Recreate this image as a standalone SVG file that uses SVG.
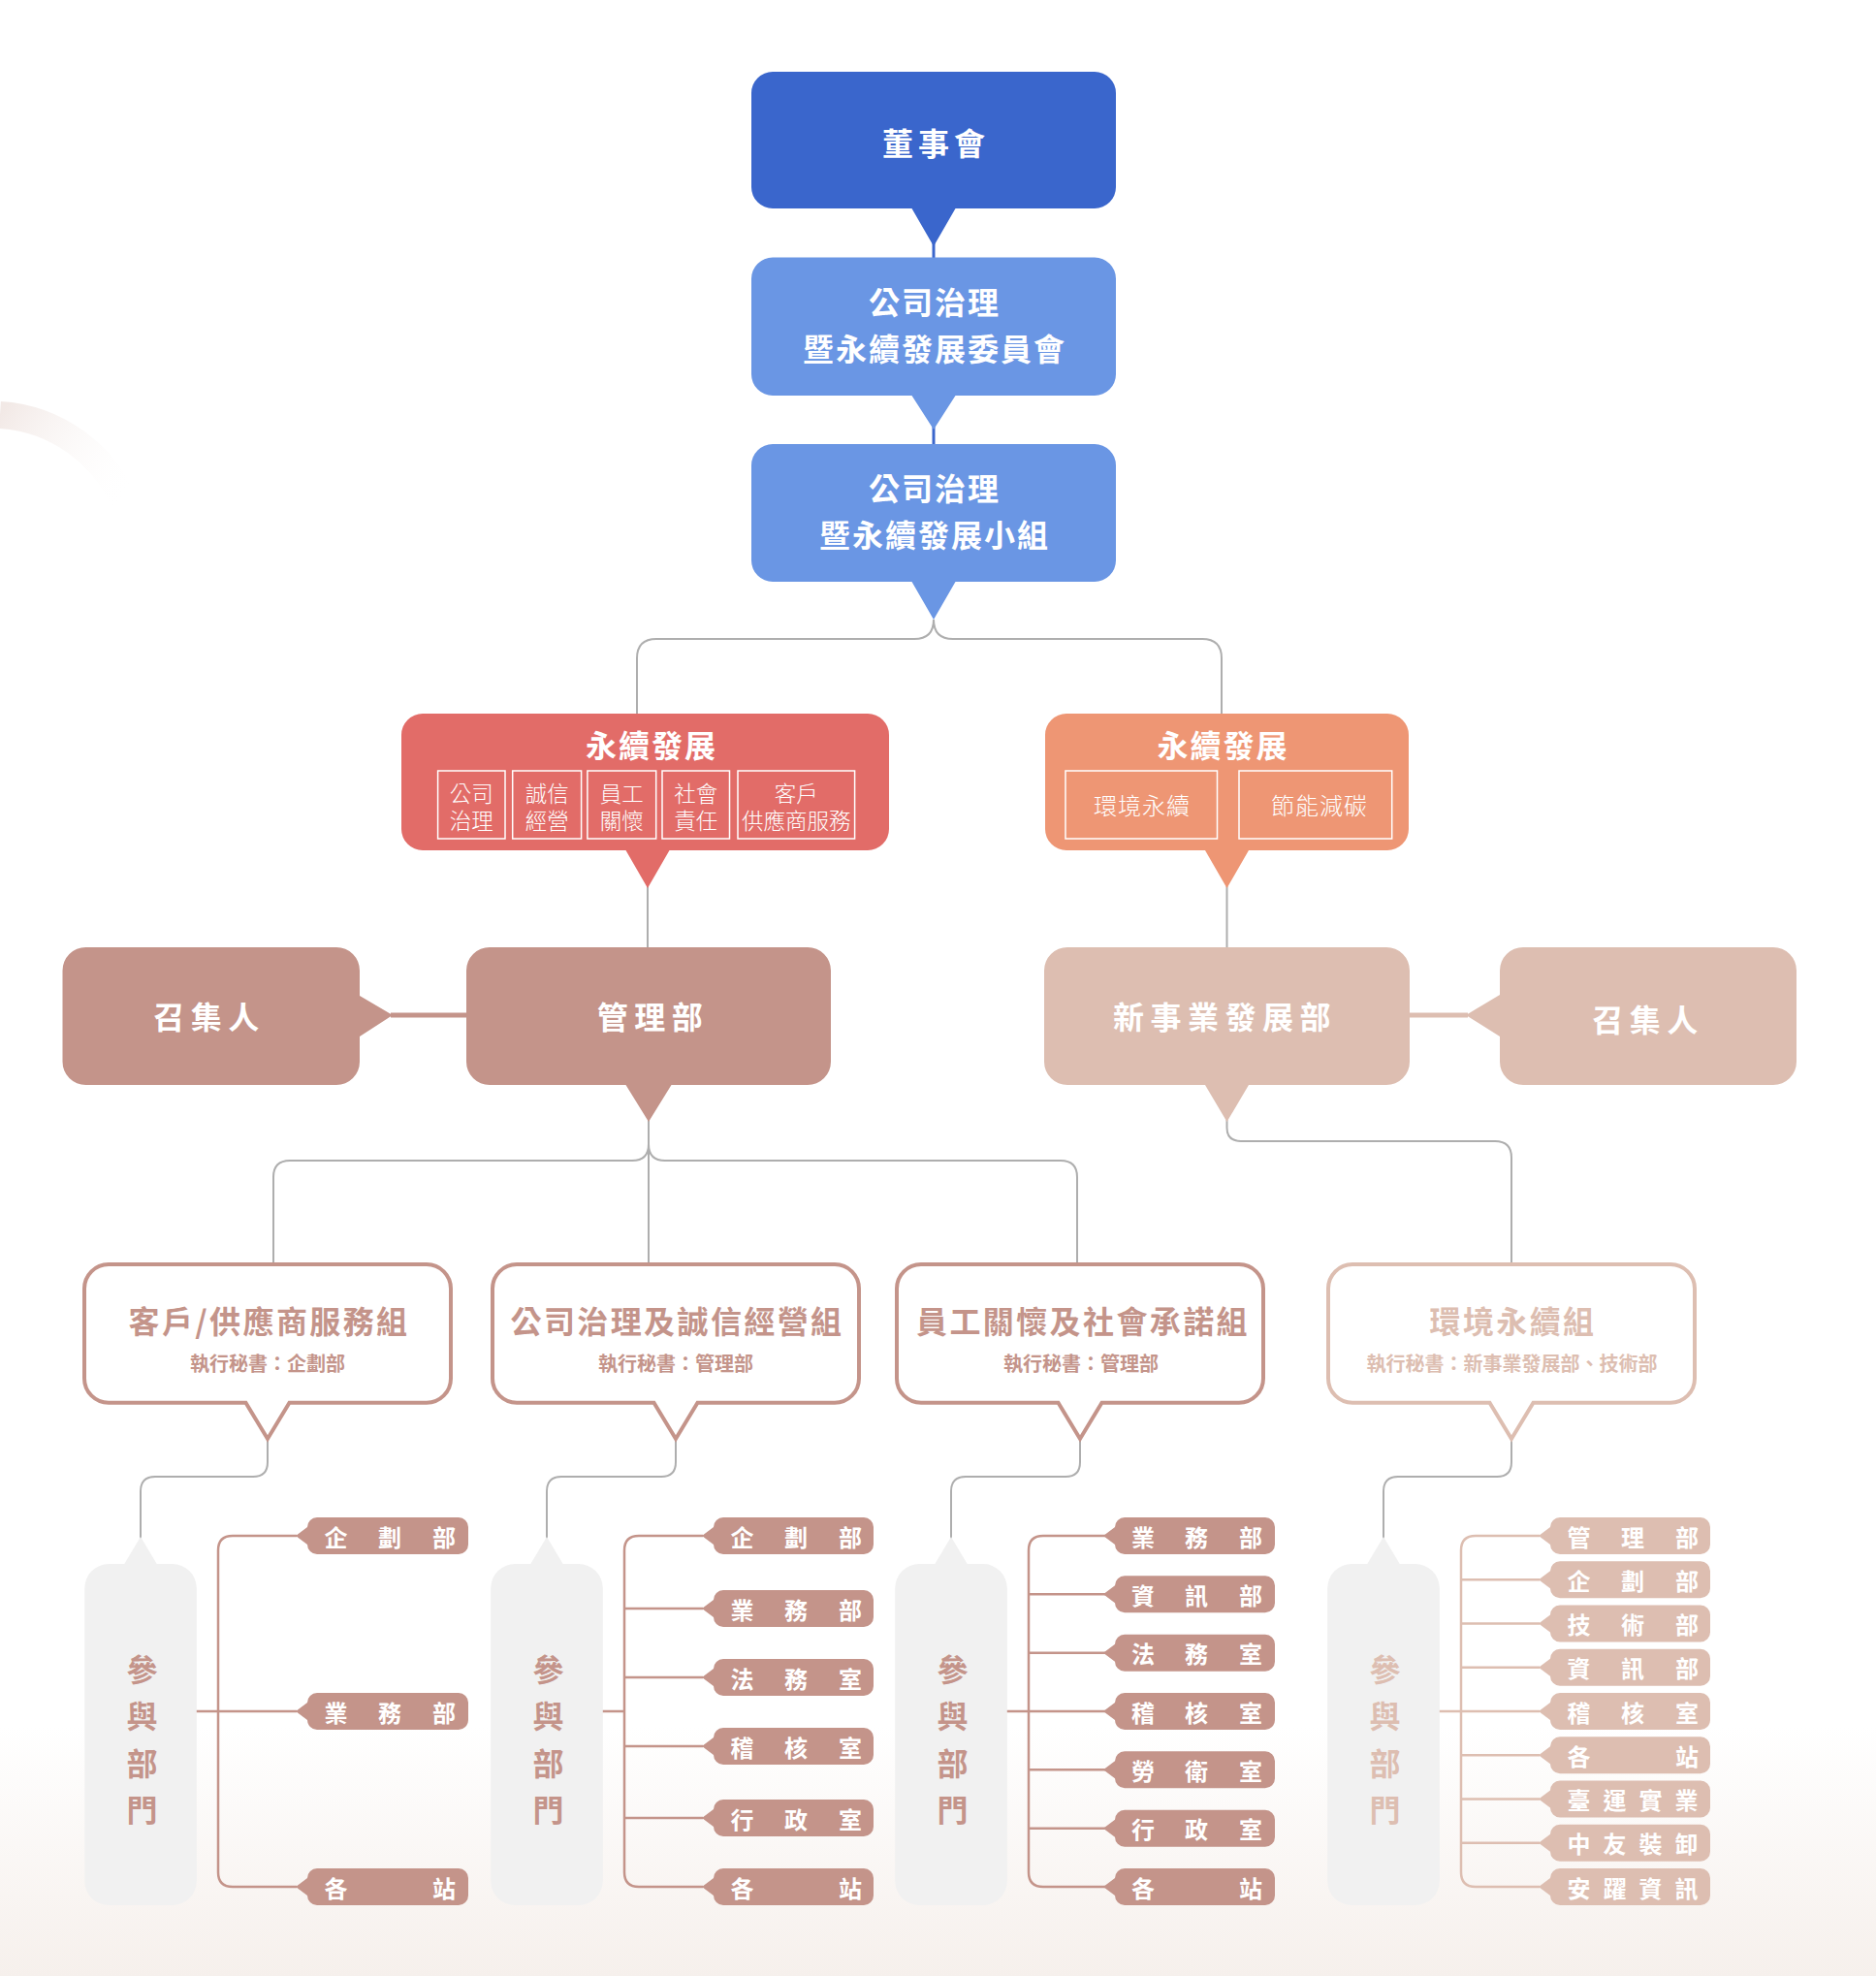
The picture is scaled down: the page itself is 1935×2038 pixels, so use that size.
<svg xmlns="http://www.w3.org/2000/svg" width="1935" height="2038" viewBox="0 0 1935 2038">
<defs>
<style>
text{font-family:"Noto Sans CJK TC","Noto Sans CJK SC",sans-serif;dominant-baseline:central;text-anchor:middle}
.w{fill:#fff}
.b{font-weight:700}
.l{font-weight:300}
.conn{fill:none;stroke:#AEAEAE;stroke-width:2}
.dk{fill:#C4948A}
.lt{fill:#DDBEB1}
.gbox{fill:#fff;stroke-width:4}
.gd{stroke:#C4948A}
.gl{stroke:#DDBEB1}
.br{fill:none;stroke-width:2.5}
.bd{stroke:#C4948A}
.bl{stroke:#DDBEB1}
.sub{fill:none;stroke:#fff;stroke-width:1.5}
.pt{font-size:24px;font-weight:700;fill:#fff}
.gt{font-size:32px;font-weight:700;letter-spacing:2.4px}
.gs{font-size:20px;font-weight:700}
.vt{font-size:32px;font-weight:700}
</style>
<linearGradient id="bg" x1="0" y1="0" x2="0" y2="1">
<stop offset="0" stop-color="#FFFFFF"/>
<stop offset="1" stop-color="#F6F0EC"/>
</linearGradient>
<linearGradient id="arc" gradientUnits="userSpaceOnUse" x1="0" y1="428" x2="128" y2="518">
<stop offset="0" stop-color="#F2E9E6"/>
<stop offset="1" stop-color="#FFFFFF" stop-opacity="0"/>
</linearGradient>
</defs>
<rect width="1935" height="2038" fill="#fff"/>
<rect x="0" y="1780" width="1935" height="258" fill="url(#bg)"/>
<path d="M0,428 A150,150 0 0 1 130,522" fill="none" stroke="url(#arc)" stroke-width="28"/>

<g id="connectors">
<path d="M963,250 V268" stroke="#3A66CC" stroke-width="3" fill="none"/>
<path d="M963,440 V460" stroke="#3A66CC" stroke-width="3" fill="none"/>
<path class="conn" d="M963,639 Q963,659 943,659 H677 Q657,659 657,679 V738"/>
<path class="conn" d="M963,639 Q963,659 983,659 H1240 Q1260,659 1260,679 V738"/>
<path class="conn" d="M668,914 V979"/>
<path class="conn" d="M1265.5,914 V979"/>
<path d="M403,1047 H483" stroke="#C4948A" stroke-width="5" fill="none"/>
<path d="M1452,1047 H1514" stroke="#DDBEB1" stroke-width="5" fill="none"/>
<path class="conn" d="M669,1155 V1180 Q669,1197 652,1197 H299 Q282,1197 282,1214 V1306"/>
<path class="conn" d="M669,1155 V1180 Q669,1197 686,1197 H1094 Q1111,1197 1111,1214 V1306"/>
<path class="conn" d="M669,1155 V1306"/>
<path class="conn" d="M1265.5,1155 V1163 Q1265.5,1177 1280,1177 H1542 Q1559,1177 1559,1194 V1306"/>
<path class="conn" d="M276,1482 V1508 Q276,1523 261,1523 H160 Q145,1523 145,1538 V1588"/>
<path class="conn" d="M697,1482 V1508 Q697,1523 682,1523 H579 Q564,1523 564,1538 V1588"/>
<path class="conn" d="M1114,1482 V1508 Q1114,1523 1099,1523 H996 Q981,1523 981,1538 V1588"/>
<path class="conn" d="M1559,1482 V1508 Q1559,1523 1544,1523 H1442 Q1427,1523 1427,1538 V1588"/>
<path class="br bd" d="M306,1584 H240 Q225,1584 225,1599 V1931 Q225,1946 240,1946 H306 M202,1765 H306"/>
<path class="br bd" d="M725,1584 H659 Q644,1584 644,1599 V1931 Q644,1946 659,1946 H725 M644,1659 H725 M644,1730 H725 M644,1801 H725 M644,1875 H725 M621,1765 H644"/>
<path class="br bd" d="M1140,1584 H1076 Q1061,1584 1061,1599 V1931 Q1061,1946 1076,1946 H1140 M1061,1644.3 H1140 M1061,1704.7 H1140 M1038,1765 H1140 M1061,1825.3 H1140 M1061,1885.7 H1140"/>
<path class="br bl" d="M1588,1584 H1522 Q1507,1584 1507,1599 V1931 Q1507,1946 1522,1946 H1588 M1507,1629.25 H1588 M1507,1674.5 H1588 M1507,1719.75 H1588 M1484,1765 H1588 M1507,1810.25 H1588 M1507,1855.5 H1588 M1507,1900.75 H1588"/>
</g>

<g id="board">
<path fill="#3A66CC" d="M797,74 H1129 A22,22 0 0 1 1151,96 V193 A22,22 0 0 1 1129,215 H985.5 L963,254 L940.5,215 H797 A22,22 0 0 1 775,193 V96 A22,22 0 0 1 797,74 Z"/>
<text class="w b" x="965.5" y="146" font-size="32" letter-spacing="5">董事會</text>
</g>
<g id="committee">
<path fill="#6A96E4" d="M797,265.5 H1129 A22,22 0 0 1 1151,287.5 V386 A22,22 0 0 1 1129,408 H985.5 L963,443 L940.5,408 H797 A22,22 0 0 1 775,386 V287.5 A22,22 0 0 1 797,265.5 Z"/>
<text class="w b" x="964" y="309.5" font-size="32" letter-spacing="2">公司治理</text>
<text class="w b" x="964" y="358" font-size="32" letter-spacing="2">暨永續發展委員會</text>
</g>
<g id="taskforce">
<path fill="#6A96E4" d="M797,458 H1129 A22,22 0 0 1 1151,480 V578 A22,22 0 0 1 1129,600 H985.5 L963,639 L940.5,600 H797 A22,22 0 0 1 775,578 V480 A22,22 0 0 1 797,458 Z"/>
<text class="w b" x="964" y="502" font-size="32" letter-spacing="2">公司治理</text>
<text class="w b" x="964" y="550" font-size="32" letter-spacing="2">暨永續發展小組</text>
</g>

<g id="esg-left">
<path fill="#E26C68" d="M436,736 H895 A22,22 0 0 1 917,758 V855 A22,22 0 0 1 895,877 H690.5 L668,916 L645.5,877 H436 A22,22 0 0 1 414,855 V758 A22,22 0 0 1 436,736 Z"/>
<text class="w b" x="672" y="767" font-size="32" letter-spacing="2">永續發展</text>
<rect class="sub" x="451.6" y="795" width="69.4" height="70"/>
<rect class="sub" x="528.7" y="795" width="70.9" height="70"/>
<rect class="sub" x="605.9" y="795" width="70.8" height="70"/>
<rect class="sub" x="683" y="795" width="69.5" height="70"/>
<rect class="sub" x="761" y="795" width="120.6" height="70"/>
<g class="w l" font-size="22.5">
<text x="486.3" y="817">公司</text><text x="486.3" y="845">治理</text>
<text x="564.2" y="817">誠信</text><text x="564.2" y="845">經營</text>
<text x="641.3" y="817">員工</text><text x="641.3" y="845">關懷</text>
<text x="717.8" y="817">社會</text><text x="717.8" y="845">責任</text>
<text x="821.3" y="817">客戶</text><text x="821.3" y="845">供應商服務</text>
</g>
</g>
<g id="esg-right">
<path fill="#EE9674" d="M1100,736 H1431 A22,22 0 0 1 1453,758 V855 A22,22 0 0 1 1431,877 H1288 L1265.5,916 L1243,877 H1100 A22,22 0 0 1 1078,855 V758 A22,22 0 0 1 1100,736 Z"/>
<text class="w b" x="1261.5" y="767" font-size="32" letter-spacing="2">永續發展</text>
<rect class="sub" x="1099" y="795" width="156.5" height="70"/>
<rect class="sub" x="1278" y="795" width="157.7" height="70"/>
<text class="w l" x="1178" y="829" font-size="24" letter-spacing="1">環境永續</text>
<text class="w l" x="1361" y="829" font-size="24" letter-spacing="1">節能減碳</text>
</g>

<g id="convener-left">
<path class="dk" d="M88.5,977 H347 A24,24 0 0 1 371,1001 V1027 L405,1047 L371,1069 V1095 A24,24 0 0 1 347,1119 H88.5 A24,24 0 0 1 64.5,1095 V1001 A24,24 0 0 1 88.5,977 Z"/>
<text class="w b" x="216" y="1046.5" font-size="32" letter-spacing="6.5">召集人</text>
</g>
<g id="admin-dept">
<path class="dk" d="M505,977 H833 A24,24 0 0 1 857,1001 V1095 A24,24 0 0 1 833,1119 H692.5 L669,1157 L645.5,1119 H505 A24,24 0 0 1 481,1095 V1001 A24,24 0 0 1 505,977 Z"/>
<text class="w b" x="673.5" y="1046.5" font-size="32" letter-spacing="6.5">管理部</text>
</g>
<g id="newbiz-dept">
<path class="lt" d="M1101,977 H1430 A24,24 0 0 1 1454,1001 V1095 A24,24 0 0 1 1430,1119 H1288 L1265.5,1157 L1243,1119 H1101 A24,24 0 0 1 1077,1095 V1001 A24,24 0 0 1 1101,977 Z"/>
<text class="w b" x="1263.5" y="1046.5" font-size="32" letter-spacing="6.5">新事業發展部</text>
</g>
<g id="convener-right">
<path class="lt" d="M1571,977 H1829 A24,24 0 0 1 1853,1001 V1095 A24,24 0 0 1 1829,1119 H1571 A24,24 0 0 1 1547,1095 V1069 L1512,1047 L1547,1026 V1001 A24,24 0 0 1 1571,977 Z"/>
<text class="w b" x="1700" y="1050" font-size="32" letter-spacing="6.5">召集人</text>
</g>

<g id="group-customer">
<path class="gbox gd" d="M112,1304 H440 A25,25 0 0 1 465,1329 V1421.7 A25,25 0 0 1 440,1446.7 H298.5 L276,1484 L253.5,1446.7 H112 A25,25 0 0 1 87,1421.7 V1329 A25,25 0 0 1 112,1304 Z"/>
<text class="gt dk" x="277.5" y="1360.5">客戶/供應商服務組</text>
<text class="gs dk" x="276" y="1405.5">執行秘書：企劃部</text>
</g>
<g id="group-governance">
<path class="gbox gd" d="M533,1304 H861 A25,25 0 0 1 886,1329 V1421.7 A25,25 0 0 1 861,1446.7 H719.5 L697,1484 L674.5,1446.7 H533 A25,25 0 0 1 508,1421.7 V1329 A25,25 0 0 1 533,1304 Z"/>
<text class="gt dk" x="698.5" y="1360.5">公司治理及誠信經營組</text>
<text class="gs dk" x="697" y="1405.5">執行秘書：管理部</text>
</g>
<g id="group-social">
<path class="gbox gd" d="M950,1304 H1278 A25,25 0 0 1 1303,1329 V1421.7 A25,25 0 0 1 1278,1446.7 H1136.5 L1114,1484 L1091.5,1446.7 H950 A25,25 0 0 1 925,1421.7 V1329 A25,25 0 0 1 950,1304 Z"/>
<text class="gt dk" x="1117" y="1360.5">員工關懷及社會承諾組</text>
<text class="gs dk" x="1115" y="1405.5">執行秘書：管理部</text>
</g>
<g id="group-environment">
<path class="gbox gl" d="M1395,1304 H1723 A25,25 0 0 1 1748,1329 V1421.7 A25,25 0 0 1 1723,1446.7 H1581.5 L1559,1484 L1536.5,1446.7 H1395 A25,25 0 0 1 1370,1421.7 V1329 A25,25 0 0 1 1395,1304 Z"/>
<text class="gt lt" x="1560.5" y="1360.5">環境永續組</text>
<text class="gs lt" x="1559.5" y="1405.5">執行秘書：新事業發展部、技術部</text>
</g>

<g id="members-a">
<path fill="#F1F1F1" d="M145,1585 L161.7,1613 H177.8 A25,25 0 0 1 202.8,1638 V1940 A25,25 0 0 1 177.8,1965 H112.3 A25,25 0 0 1 87.3,1940 V1638 A25,25 0 0 1 112.3,1613 H128.3 Z"/>
<text class="vt dk" x="146.5 146.5 146.5 146.5" y="1720 1768.3 1816.7 1865">參與部門</text>
</g>
<g id="members-b">
<path fill="#F1F1F1" d="M564,1585 L580.7,1613 H596.8 A25,25 0 0 1 621.8,1638 V1940 A25,25 0 0 1 596.8,1965 H531.2 A25,25 0 0 1 506.2,1940 V1638 A25,25 0 0 1 531.2,1613 H547.3 Z"/>
<text class="vt dk" x="565.5 565.5 565.5 565.5" y="1720 1768.3 1816.7 1865">參與部門</text>
</g>
<g id="members-c">
<path fill="#F1F1F1" d="M981,1585 L997.7,1613 H1013.8 A25,25 0 0 1 1038.8,1638 V1940 A25,25 0 0 1 1013.8,1965 H948.2 A25,25 0 0 1 923.2,1940 V1638 A25,25 0 0 1 948.2,1613 H964.3 Z"/>
<text class="vt dk" x="982.5 982.5 982.5 982.5" y="1720 1768.3 1816.7 1865">參與部門</text>
</g>
<g id="members-d">
<path fill="#F1F1F1" d="M1427,1585 L1443.7,1613 H1459.8 A25,25 0 0 1 1484.8,1638 V1940 A25,25 0 0 1 1459.8,1965 H1394.2 A25,25 0 0 1 1369.2,1940 V1638 A25,25 0 0 1 1394.2,1613 H1410.3 Z"/>
<text class="vt lt" x="1428.5 1428.5 1428.5 1428.5" y="1720 1768.3 1816.7 1865">參與部門</text>
</g>

<g id="pill-a1"><path class="dk" d="M327,1565 H473 A10,10 0 0 1 483,1575 V1593 A10,10 0 0 1 473,1603 H327 A10,10 0 0 1 317,1593 L305,1584 L317,1575 A10,10 0 0 1 327,1565 Z"/><text class="pt" x="346.5 402 458" y="1584">企劃部</text></g>
<g id="pill-a2"><path class="dk" d="M327,1746 H473 A10,10 0 0 1 483,1756 V1774 A10,10 0 0 1 473,1784 H327 A10,10 0 0 1 317,1774 L305,1765 L317,1756 A10,10 0 0 1 327,1746 Z"/><text class="pt" x="346.5 402 458" y="1765">業務部</text></g>
<g id="pill-a3"><path class="dk" d="M327,1927 H473 A10,10 0 0 1 483,1937 V1955 A10,10 0 0 1 473,1965 H327 A10,10 0 0 1 317,1955 L305,1946 L317,1937 A10,10 0 0 1 327,1927 Z"/><text class="pt" x="346.5 458" y="1946">各站</text></g>

<g id="pill-b1"><path class="dk" d="M746,1565 H891 A10,10 0 0 1 901,1575 V1593 A10,10 0 0 1 891,1603 H746 A10,10 0 0 1 736,1593 L724,1584 L736,1575 A10,10 0 0 1 746,1565 Z"/><text class="pt" x="765.5 821 877" y="1584">企劃部</text></g>
<g id="pill-b2"><path class="dk" d="M746,1640 H891 A10,10 0 0 1 901,1650 V1668 A10,10 0 0 1 891,1678 H746 A10,10 0 0 1 736,1668 L724,1659 L736,1650 A10,10 0 0 1 746,1640 Z"/><text class="pt" x="765.5 821 877" y="1659">業務部</text></g>
<g id="pill-b3"><path class="dk" d="M746,1711 H891 A10,10 0 0 1 901,1721 V1739 A10,10 0 0 1 891,1749 H746 A10,10 0 0 1 736,1739 L724,1730 L736,1721 A10,10 0 0 1 746,1711 Z"/><text class="pt" x="765.5 821 877" y="1730">法務室</text></g>
<g id="pill-b4"><path class="dk" d="M746,1782 H891 A10,10 0 0 1 901,1792 V1810 A10,10 0 0 1 891,1820 H746 A10,10 0 0 1 736,1810 L724,1801 L736,1792 A10,10 0 0 1 746,1782 Z"/><text class="pt" x="765.5 821 877" y="1801">稽核室</text></g>
<g id="pill-b5"><path class="dk" d="M746,1856 H891 A10,10 0 0 1 901,1866 V1884 A10,10 0 0 1 891,1894 H746 A10,10 0 0 1 736,1884 L724,1875 L736,1866 A10,10 0 0 1 746,1856 Z"/><text class="pt" x="765.5 821 877" y="1875">行政室</text></g>
<g id="pill-b6"><path class="dk" d="M746,1927 H891 A10,10 0 0 1 901,1937 V1955 A10,10 0 0 1 891,1965 H746 A10,10 0 0 1 736,1955 L724,1946 L736,1937 A10,10 0 0 1 746,1927 Z"/><text class="pt" x="765.5 877" y="1946">各站</text></g>

<g id="pill-c1"><path class="dk" d="M1160,1565 H1305 A10,10 0 0 1 1315,1575 V1593 A10,10 0 0 1 1305,1603 H1160 A10,10 0 0 1 1150,1593 L1138,1584 L1150,1575 A10,10 0 0 1 1160,1565 Z"/><text class="pt" x="1179 1234 1290" y="1584">業務部</text></g>
<g id="pill-c2"><path class="dk" d="M1160,1625.3 H1305 A10,10 0 0 1 1315,1635.3 V1653.3 A10,10 0 0 1 1305,1663.3 H1160 A10,10 0 0 1 1150,1653.3 L1138,1644.3 L1150,1635.3 A10,10 0 0 1 1160,1625.3 Z"/><text class="pt" x="1179 1234 1290" y="1644.3">資訊部</text></g>
<g id="pill-c3"><path class="dk" d="M1160,1685.7 H1305 A10,10 0 0 1 1315,1695.7 V1713.7 A10,10 0 0 1 1305,1723.7 H1160 A10,10 0 0 1 1150,1713.7 L1138,1704.7 L1150,1695.7 A10,10 0 0 1 1160,1685.7 Z"/><text class="pt" x="1179 1234 1290" y="1704.7">法務室</text></g>
<g id="pill-c4"><path class="dk" d="M1160,1746 H1305 A10,10 0 0 1 1315,1756 V1774 A10,10 0 0 1 1305,1784 H1160 A10,10 0 0 1 1150,1774 L1138,1765 L1150,1756 A10,10 0 0 1 1160,1746 Z"/><text class="pt" x="1179 1234 1290" y="1765">稽核室</text></g>
<g id="pill-c5"><path class="dk" d="M1160,1806.3 H1305 A10,10 0 0 1 1315,1816.3 V1834.3 A10,10 0 0 1 1305,1844.3 H1160 A10,10 0 0 1 1150,1834.3 L1138,1825.3 L1150,1816.3 A10,10 0 0 1 1160,1806.3 Z"/><text class="pt" x="1179 1234 1290" y="1825.3">勞衛室</text></g>
<g id="pill-c6"><path class="dk" d="M1160,1866.7 H1305 A10,10 0 0 1 1315,1876.7 V1894.7 A10,10 0 0 1 1305,1904.7 H1160 A10,10 0 0 1 1150,1894.7 L1138,1885.7 L1150,1876.7 A10,10 0 0 1 1160,1866.7 Z"/><text class="pt" x="1179 1234 1290" y="1885.7">行政室</text></g>
<g id="pill-c7"><path class="dk" d="M1160,1927 H1305 A10,10 0 0 1 1315,1937 V1955 A10,10 0 0 1 1305,1965 H1160 A10,10 0 0 1 1150,1955 L1138,1946 L1150,1937 A10,10 0 0 1 1160,1927 Z"/><text class="pt" x="1179 1290" y="1946">各站</text></g>

<g id="pill-d1"><path class="lt" d="M1609,1565 H1754 A10,10 0 0 1 1764,1575 V1593 A10,10 0 0 1 1754,1603 H1609 A10,10 0 0 1 1599,1593 L1587,1584 L1599,1575 A10,10 0 0 1 1609,1565 Z"/><text class="pt" x="1628.5 1684 1740" y="1584">管理部</text></g>
<g id="pill-d2"><path class="lt" d="M1609,1610.25 H1754 A10,10 0 0 1 1764,1620.25 V1638.25 A10,10 0 0 1 1754,1648.25 H1609 A10,10 0 0 1 1599,1638.25 L1587,1629.25 L1599,1620.25 A10,10 0 0 1 1609,1610.25 Z"/><text class="pt" x="1628.5 1684 1740" y="1629.25">企劃部</text></g>
<g id="pill-d3"><path class="lt" d="M1609,1655.5 H1754 A10,10 0 0 1 1764,1665.5 V1683.5 A10,10 0 0 1 1754,1693.5 H1609 A10,10 0 0 1 1599,1683.5 L1587,1674.5 L1599,1665.5 A10,10 0 0 1 1609,1655.5 Z"/><text class="pt" x="1628.5 1684 1740" y="1674.5">技術部</text></g>
<g id="pill-d4"><path class="lt" d="M1609,1700.75 H1754 A10,10 0 0 1 1764,1710.75 V1728.75 A10,10 0 0 1 1754,1738.75 H1609 A10,10 0 0 1 1599,1728.75 L1587,1719.75 L1599,1710.75 A10,10 0 0 1 1609,1700.75 Z"/><text class="pt" x="1628.5 1684 1740" y="1719.75">資訊部</text></g>
<g id="pill-d5"><path class="lt" d="M1609,1746 H1754 A10,10 0 0 1 1764,1756 V1774 A10,10 0 0 1 1754,1784 H1609 A10,10 0 0 1 1599,1774 L1587,1765 L1599,1756 A10,10 0 0 1 1609,1746 Z"/><text class="pt" x="1628.5 1684 1740" y="1765">稽核室</text></g>
<g id="pill-d6"><path class="lt" d="M1609,1791.25 H1754 A10,10 0 0 1 1764,1801.25 V1819.25 A10,10 0 0 1 1754,1829.25 H1609 A10,10 0 0 1 1599,1819.25 L1587,1810.25 L1599,1801.25 A10,10 0 0 1 1609,1791.25 Z"/><text class="pt" x="1628.5 1740" y="1810.25">各站</text></g>
<g id="pill-d7"><path class="lt" d="M1609,1836.5 H1754 A10,10 0 0 1 1764,1846.5 V1864.5 A10,10 0 0 1 1754,1874.5 H1609 A10,10 0 0 1 1599,1864.5 L1587,1855.5 L1599,1846.5 A10,10 0 0 1 1609,1836.5 Z"/><text class="pt" x="1628.5 1665.5 1702.5 1739.5" y="1855.5">臺運實業</text></g>
<g id="pill-d8"><path class="lt" d="M1609,1881.75 H1754 A10,10 0 0 1 1764,1891.75 V1909.75 A10,10 0 0 1 1754,1919.75 H1609 A10,10 0 0 1 1599,1909.75 L1587,1900.75 L1599,1891.75 A10,10 0 0 1 1609,1881.75 Z"/><text class="pt" x="1628.5 1665.5 1702.5 1739.5" y="1900.75">中友裝卸</text></g>
<g id="pill-d9"><path class="lt" d="M1609,1927 H1754 A10,10 0 0 1 1764,1937 V1955 A10,10 0 0 1 1754,1965 H1609 A10,10 0 0 1 1599,1955 L1587,1946 L1599,1937 A10,10 0 0 1 1609,1927 Z"/><text class="pt" x="1628.5 1665.5 1702.5 1739.5" y="1946">安躍資訊</text></g>
</svg>
